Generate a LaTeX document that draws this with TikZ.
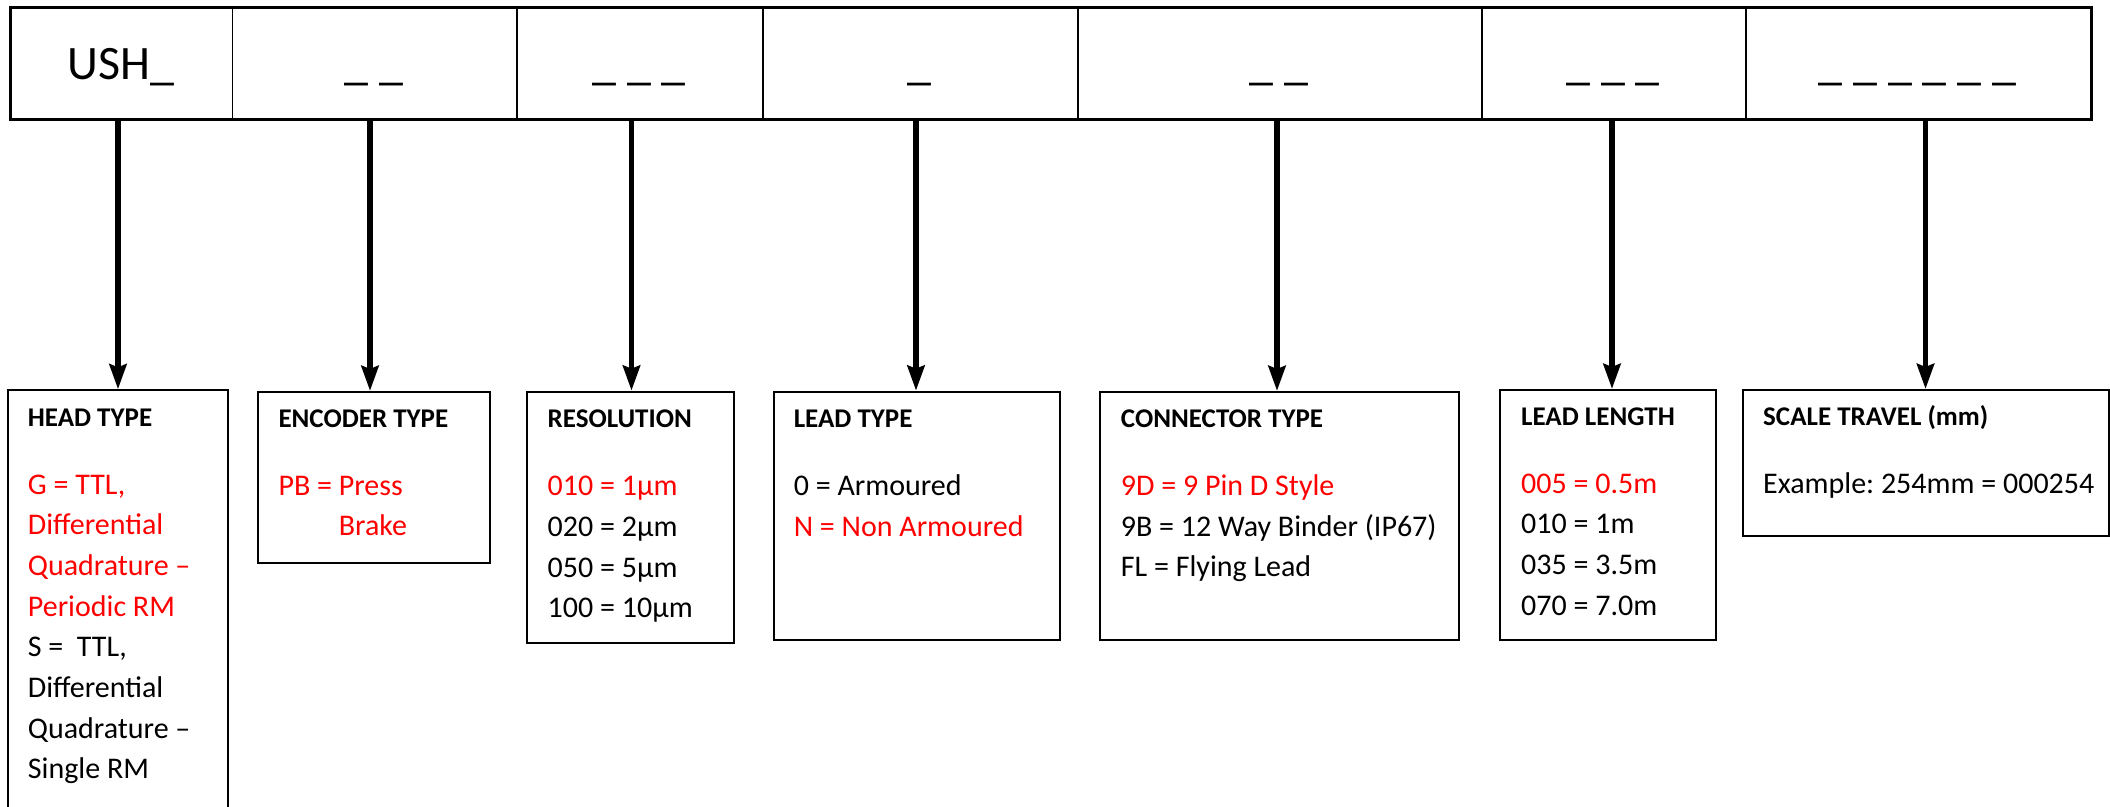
\documentclass[tikz,border=0pt]{standalone}
\usepackage{fontspec}
\setmainfont{Carlito}
\usetikzlibrary{arrows.meta}
\definecolor{optred}{RGB}{255,0,0}
\frenchspacing
\begin{document}
\begin{tikzpicture}[x=1pt,y=-1pt,
  cell/.style={draw=black,line width=1.5pt,anchor=north west,inner sep=0pt,minimum height=110.4pt},
  bartxt/.style={anchor=base,inner sep=0pt,font=\fontsize{48}{56}\selectfont},
  infobox/.style={draw=black,line width=2pt,anchor=north west,inner sep=0pt},
  hd/.style={anchor=base west,inner sep=0pt,font=\fontsize{27}{32}\selectfont\bfseries},
  bd/.style={anchor=base west,inner sep=0pt,font=\fontsize{30}{40}\selectfont},
  rd/.style={text=optred},
  arr/.style={line width=5.5pt,-{Stealth[length=25pt,width=17pt,inset=3pt]}}]
\useasboundingbox (0,0) rectangle (2110,806);
\clip (0,0) rectangle (2110,806);
\fill[white] (0,0) rectangle (2110,806);

% code bar
\node[cell,minimum width=221.7pt] (c1) at (10,7.3) {};
\node[cell,minimum width=284.3pt] (c2) at (231.7,7.3) {};
\node[cell,minimum width=246pt] (c3) at (516,7.3) {};
\node[cell,minimum width=315pt] (c4) at (762,7.3) {};
\node[cell,minimum width=404pt] (c5) at (1077,7.3) {};
\node[cell,minimum width=264pt] (c6) at (1481,7.3) {};
\node[cell,minimum width=345pt] (c7) at (1745,7.3) {};
\draw[line width=3pt] (c1.north west) rectangle (c7.south east);

\node[bartxt] (t1) at (121,79) {USH\_};
\node[bartxt] (t2) at (374,79) {\_ \_};
\node[bartxt] (t3) at (639,79) {\_ \_ \_};
\node[bartxt] (t4) at (919.5,79) {\_};
\node[bartxt] (t5) at (1279,79) {\_ \_};
\node[bartxt] (t6) at (1613,79) {\_ \_ \_};
\node[bartxt] (t7) at (1917.5,79) {\_ \_ \_ \_ \_ \_};

% info boxes
\node[infobox,minimum width=220.6pt,minimum height=440pt] (bhead) at (6.7,389.3) {};
\node[infobox,minimum width=232.6pt,minimum height=170.7pt] (benc) at (256.7,391) {};
\node[infobox,minimum width=206.8pt,minimum height=251pt] (bres) at (525.7,390.7) {};
\node[infobox,minimum width=286.1pt,minimum height=248.3pt] (blt) at (772.9,390.7) {};
\node[infobox,minimum width=358.9pt,minimum height=248.3pt] (bcon) at (1099,391) {};
\node[infobox,minimum width=215.7pt,minimum height=250.3pt] (bll) at (1499.3,389) {};
\node[infobox,minimum width=366.5pt,minimum height=146pt] (bst) at (1741.5,389) {};

% arrow start points on the code bar
\coordinate (a1) at (118,117.7);
\coordinate (a2) at (370,117.7);
\coordinate (a3) at (631.5,117.7);
\coordinate (a4) at (916,117.7);
\coordinate (a5) at (1277,117.7);
\coordinate (a6) at (1612,117.7);
\coordinate (a7) at (1925.5,117.7);
\draw[arr] (a1) -- (a1 |- bhead.north);
\draw[arr] (a2) -- (a2 |- benc.north);
\draw[arr] (a3) -- (a3 |- bres.north);
\draw[arr] (a4) -- (a4 |- blt.north);
\draw[arr] (a5) -- (a5 |- bcon.north);
\draw[arr] (a6) -- (a6 |- bll.north);
\draw[arr] (a7) -- (a7 |- bst.north);

% HEAD TYPE
\node[hd] (h0) at (27.7,426.7) {HEAD TYPE};
\node[bd,rd] (h1) at (27.7,494) {G = TTL,};
\node[bd,rd] (h2) at (27.7,534.7) {Differential};
\node[bd,rd] (h3) at (27.7,575.4) {Quadrature –};
\node[bd,rd] (h4) at (27.7,616.1) {Periodic RM};
\node[bd] (h5) at (27.7,656.8) {S =\ \ TTL,};
\node[bd] (h6) at (27.7,697.5) {Differential};
\node[bd] (h7) at (27.7,738.2) {Quadrature –};
\node[bd] (h8) at (27.7,778.9) {Single RM};

% ENCODER TYPE
\node[hd] (e0) at (278.3,427) {ENCODER TYPE};
\node[bd,rd] (e1) at (278.3,495) {PB = Press};
\node[bd,rd] (e2) at (278.3,535.7) {\phantom{PB = }Brake};

% RESOLUTION
\node[hd] (r0) at (547.5,427) {RESOLUTION};
\node[bd,rd] (r1) at (547.5,495.7) {010 = 1µm};
\node[bd] (r2) at (547.5,536.4) {020 = 2µm};
\node[bd] (r3) at (547.5,577.1) {050 = 5µm};
\node[bd] (r4) at (547.5,617.8) {100 = 10µm};

% LEAD TYPE
\node[hd] (l0) at (793.6,427) {LEAD TYPE};
\node[bd] (l1) at (793.6,495.5) {0 = Armoured};
\node[bd,rd] (l2) at (793.6,536.2) {N = Non Armoured};

% CONNECTOR TYPE
\node[hd] (k0) at (1120.7,427) {CONNECTOR TYPE};
\node[bd,rd] (k1) at (1120.7,495.5) {9D = 9 Pin D Style};
\node[bd] (k2) at (1120.7,536.2) {9B = 12 Way Binder (IP67)};
\node[bd] (k3) at (1120.7,576.9) {FL = Flying Lead};

% LEAD LENGTH
\node[hd] (g0) at (1521,425) {LEAD LENGTH};
\node[bd,rd] (g1) at (1521,493) {005 = 0.5m};
\node[bd] (g2) at (1521,533.7) {010 = 1m};
\node[bd] (g3) at (1521,574.4) {035 = 3.5m};
\node[bd] (g4) at (1521,615.1) {070 = 7.0m};

% SCALE TRAVEL
\node[hd] (s0) at (1763,425) {SCALE TRAVEL (mm)};
\node[bd] (s1) at (1763,493) {Example: 254mm = 000254};
\end{tikzpicture}
\end{document}
